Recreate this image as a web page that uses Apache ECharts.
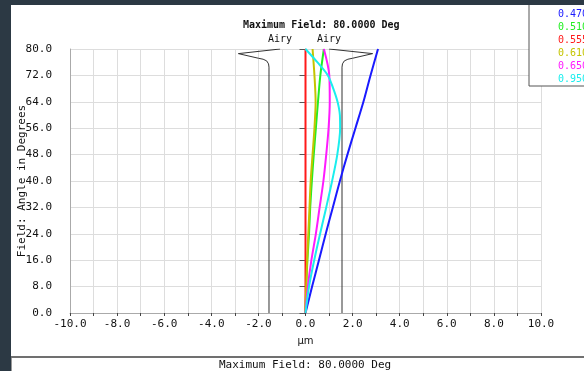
<!DOCTYPE html>
<html>
<head>
<meta charset="utf-8">
<script src="https://cdn.jsdelivr.net/npm/echarts@6/dist/echarts.min.js"></script>
<style>
  html, body { margin: 0; padding: 0; background: #fff; }
  #main { width: 584px; height: 371px; }
</style>
</head>
<body>
<div id="main"></div>
<script>
// field angles (deg) at which the lateral colour curves were read
var fieldDeg = [0, 8, 16, 24, 32, 40, 48, 56, 64, 72, 80];

// lateral colour in um, per wavelength
var w470 = [0, 0.28, 0.57, 0.86, 1.16, 1.46, 1.78, 2.12, 2.46, 2.76, 3.08];
var w510 = [0, 0.03, 0.08, 0.15, 0.2, 0.27, 0.35, 0.44, 0.53, 0.63, 0.78];
var w555 = [0, 0, 0, 0, 0, 0, 0, 0, 0, 0, 0];
var w610 = [0, 0.03, 0.07, 0.12, 0.17, 0.22, 0.3, 0.38, 0.43, 0.38, 0.3];
var w650 = [0, 0.1, 0.25, 0.44, 0.6, 0.76, 0.88, 0.98, 1.03, 1.01, 0.78];
// cyan curve bends back near the top, read at extra angles
var deg950 = [0, 8, 16, 24, 32, 40, 48, 56, 60, 64, 68, 72, 76, 80];
var w950 = [0, 0.15, 0.37, 0.62, 0.88, 1.13, 1.35, 1.47, 1.46, 1.36, 1.18, 0.95, 0.5, 0];

// airy disc radius (um) vs field, with the flare at the edge
var airyDeg = [0, 74.5, 75.5, 76.4, 76.9, 77.2, 78.6, 80];
var airyR = [1.55, 1.55, 1.57, 1.65, 1.8, 2.0, 2.85, 1.0];
var airyL = [-1.55, -1.55, -1.57, -1.65, -1.8, -2.0, -2.85, -1.08];

var waveNames = ['0.470', '0.510', '0.555', '0.610', '0.650', '0.950'];
var waveColors = ['#1a1aff', '#22ee22', '#ff1a1a', '#c4c400', '#ff1aff', '#1aeeee'];

var mono = 'DejaVu Sans Mono';

function pairs(xs, ys) {
  var out = [];
  for (var i = 0; i < xs.length; i++) out.push([xs[i], ys[i]]);
  return out;
}

function airyData(xs) {
  var d = pairs(xs, airyDeg);
  var last = d.length - 1;
  d[last] = {
    value: d[last],
    label: { show: true, position: 'top', distance: 5, formatter: 'Airy',
             fontFamily: mono, fontSize: 10, color: '#111' }
  };
  return d;
}

var waveData = [
  pairs(w470, fieldDeg),
  pairs(w510, fieldDeg),
  pairs(w555, fieldDeg),
  pairs(w610, fieldDeg),
  pairs(w650, fieldDeg),
  pairs(w950, deg950)
];

var series = [];
for (var i = 0; i < waveNames.length; i++) {
  series.push({
    name: waveNames[i],
    type: 'line',
    data: waveData[i],
    showSymbol: false,
    smooth: 0.3,
    smoothMonotone: 'none',
    lineStyle: { color: waveColors[i], width: 2 },
    itemStyle: { color: waveColors[i] },
    z: 3
  });
}
series.push({
  name: 'AiryL', type: 'line', data: airyData(airyL),
  symbol: 'circle', symbolSize: 0, showSymbol: true,
  lineStyle: { color: '#333', width: 1 }, itemStyle: { color: '#333' }, z: 2
});
series.push({
  name: 'AiryR', type: 'line', data: airyData(airyR),
  symbol: 'circle', symbolSize: 0, showSymbol: true,
  lineStyle: { color: '#333', width: 1 }, itemStyle: { color: '#333' }, z: 2
});

var legendData = waveNames.map(function (n, i) {
  return { name: n, icon: 'none', textStyle: { color: waveColors[i] } };
});

var chart = echarts.init(document.getElementById('main'));
chart.setOption({
  animation: false,
  backgroundColor: '#fff',
  title: {
    text: 'Maximum Field: 80.0000 Deg',
    left: 238, top: 15,
    textStyle: { fontFamily: mono, fontSize: 10, fontWeight: 'bold', color: '#111' }
  },
  legend: {
    data: legendData,
    orient: 'vertical',
    left: 529, top: 4,
    padding: [5, 10, 2, 24],
    itemWidth: 0, itemHeight: 10, itemGap: 3,
    backgroundColor: '#fff',
    borderColor: '#555', borderWidth: 1,
    selectedMode: false,
    textStyle: { fontFamily: mono, fontSize: 10, lineHeight: 10 }
  },
  grid: { left: 70, right: 43, top: 49, bottom: 58 },
  xAxis: {
    type: 'value', min: -10, max: 10, interval: 2,
    name: 'μm', nameLocation: 'middle', nameGap: 23,
    nameTextStyle: { fontFamily: 'DejaVu Sans', fontSize: 10, color: '#111' },
    axisLine: { onZero: false, lineStyle: { color: '#aaa' } },
    axisTick: { show: true, length: 3, lineStyle: { color: '#444' } },
    minorTick: { show: true, splitNumber: 2, length: 3, lineStyle: { color: '#444' } },
    splitLine: { show: true, lineStyle: { color: '#ddd' } },
    minorSplitLine: { show: true, lineStyle: { color: '#ddd' } },
    axisLabel: {
      margin: 6, fontFamily: mono, fontSize: 11, color: '#111',
      formatter: function (v) { return v.toFixed(1); }
    }
  },
  yAxis: [{
    type: 'value', min: 0, max: 80, interval: 8,
    name: 'Field: Angle in Degrees', nameLocation: 'middle', nameGap: 42, nameRotate: 90,
    nameMoveOverlap: false,
    nameTextStyle: { fontFamily: mono, fontSize: 11, color: '#111' },
    axisLine: { show: true, onZero: false, lineStyle: { color: '#aaa' } },
    axisTick: { show: false },
    splitLine: { show: true, lineStyle: { color: '#ddd' } },
    axisLabel: {
      margin: 18, fontFamily: mono, fontSize: 11, color: '#111',
      formatter: function (v) { return v.toFixed(1); }
    }
  }, {
    // ticks along the zero line
    type: 'value', min: 0, max: 80, interval: 8, position: 'left',
    axisLine: { show: true, onZero: true, onZeroAxisIndex: 0, lineStyle: { color: '#777' } },
    axisTick: { show: true, length: 6, lineStyle: { color: '#555' } },
    axisLabel: { show: false },
    splitLine: { show: false }
  }],
  graphic: [
    { type: 'rect', z: 100, shape: { x: 0, y: 0, width: 584, height: 5 }, style: { fill: '#2c3944' } },
    { type: 'rect', z: 100, shape: { x: 0, y: 0, width: 11, height: 371 }, style: { fill: '#2c3944' } },
    { type: 'rect', z: 100, shape: { x: 11, y: 356, width: 573, height: 2 }, style: { fill: '#707070' } },
    { type: 'rect', z: 100, shape: { x: 11, y: 358, width: 1, height: 13 }, style: { fill: '#999' } },
    { type: 'text', z: 100, left: 219, top: 360,
      style: { text: 'Maximum Field: 80.0000 Deg', font: '11px "DejaVu Sans Mono"', fill: '#111' } }
  ],
  series: series
});
</script>
</body>
</html>
